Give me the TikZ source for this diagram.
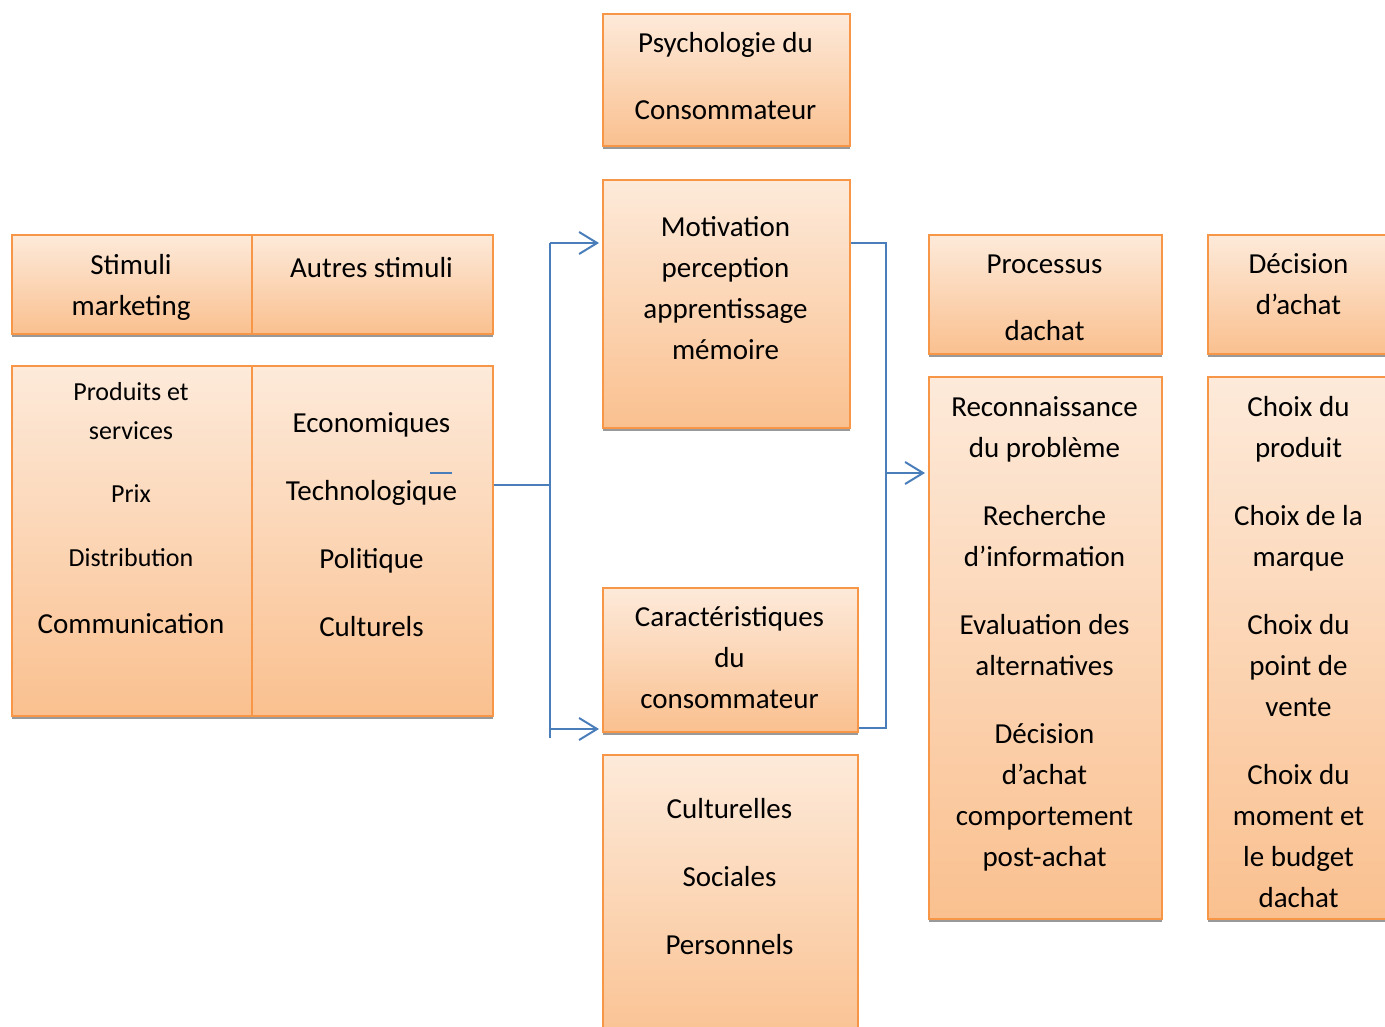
\documentclass[tikz,border=0pt]{standalone}
\usepackage{fontspec}
\setmainfont{Carlito}
\usepackage{tikz}
\usetikzlibrary{arrows.meta,shadows}
\definecolor{orangeLine}{HTML}{F79646}
\definecolor{orangeTop}{HTML}{FDEADA}
\definecolor{orangeBot}{HTML}{FAC08F}
\definecolor{bleuLien}{HTML}{4A7EBB}
\tikzset{
  boite/.style={draw=orangeLine, line width=2pt, inner sep=0pt, anchor=north west,
    top color=orangeTop, bottom color=orangeBot,
    drop shadow={shadow xshift=0pt, shadow yshift=-3pt, fill=black!40, opacity=1}},
  txt/.style={align=center, inner sep=0pt, font=\fontsize{29}{41}\selectfont},
  petit/.style={align=center, inner sep=0pt, font=\fontsize{26}{39}\selectfont},
  fil/.style={draw=bleuLien, line width=2pt},
  fleche/.style={fil, -{Straight Barb[length=18pt,width=22pt,line width=2pt]}, shorten >=3pt}
}

\begin{document}
\begin{tikzpicture}[x=1pt, y=-1pt]
  \useasboundingbox (0,0) rectangle (1385,1027);
  \clip (0,0) rectangle (1385,1027);
  \node [boite, minimum width=247, minimum height=132] (PS) at (602, 13) {};
  \node [boite, minimum width=240, minimum height=99] (SM) at (11, 234) {};
  \node [boite, minimum width=241, minimum height=99] (AS) at (251, 234) {};
  \node [boite, minimum width=240, minimum height=350] (PR) at (11, 365) {};
  \node [boite, minimum width=241, minimum height=350] (EC) at (251, 365) {};
  \node [boite, minimum width=247, minimum height=248] (MO) at (602, 179) {};
  \node [boite, minimum width=255, minimum height=144] (CA) at (602, 587) {};
  \node [boite, minimum width=255, minimum height=300] (CU) at (602, 754) {};
  \node [boite, minimum width=233, minimum height=119] (PC) at (928, 234) {};
  \node [boite, minimum width=233, minimum height=542] (RE) at (928, 376) {};
  \node [boite, minimum width=183, minimum height=119] (DA) at (1207, 234) {};
  \node [boite, minimum width=183, minimum height=542] (CH) at (1207, 376) {};

  \node [txt] (PSt) at (725.5, 76.5) {Psychologie du\\[26pt]Consommateur};
  \node [txt] (SMt) at (131, 287) {Stimuli\\marketing};
  \node [txt] (ASt) at (371.5, 268) {Autres stimuli};
  \node [petit] (PRt) at (131, 475) {Produits et\\services\\[24pt]Prix\\[25pt]Distribution};
  \node [txt] (COt) at (131, 624) {Communication};
  \node [txt] (ECt) at (371.5, 525) {Economiques\\[27pt]Technologique\\[27pt]Politique\\[27pt]Culturels};
  \node [txt] (MOt) at (725.5, 288) {Motivation\\perception\\apprentissage\\mémoire};
  \node [txt] (CAt) at (729.5, 658) {Caractéristiques\\du\\consommateur};
  \node [txt] (CUt) at (729.5, 877) {Culturelles\\[27pt]Sociales\\[27pt]Personnels};
  \node [txt] (PCt) at (1044.5, 297.5) {Processus\\[26pt]dachat};
  \node [txt] (REt) at (1044.5, 633.5) {Reconnaissance\\du problème\\[27pt]Recherche\\d’information\\[27pt]Evaluation des\\alternatives\\[27pt]Décision\\d’achat\\comportement\\post-achat};
  \node [txt] (DAt) at (1298.5, 284.5) {Décision\\d’achat};
  \node [txt] (CHt) at (1298.5, 652) {Choix du\\produit\\[27pt]Choix de la\\marque\\[27pt]Choix du\\point de\\vente\\[27pt]Choix du\\moment et\\le budget\\dachat};

  \coordinate (JA) at (550, 485);
  \coordinate (JT) at (550, 243);
  \coordinate (JC) at (550, 729);
  \coordinate (JB) at (550, 738);
  \coordinate (KT) at (886, 243);
  \coordinate (KC) at (886, 473);
  \coordinate (KB) at (886, 728);
  \coordinate (TA) at (430, 473);
  \coordinate (TB) at (452, 473);
  \draw [fil] (EC.east |- JA) -- (JA);
  \draw [fil] (JT) -- (JB);
  \draw [fleche] (JT) -- (MO.west |- JT);
  \draw [fleche] (JC) -- (CA.west |- JC);
  \draw [fil] (MO.east |- KT) -- (KT) -- (KB) -- (CA.east |- KB);
  \draw [fleche] (KC) -- (RE.west |- KC);
  \draw [fil, line width=1.5pt] (TA) -- (TB);
\end{tikzpicture}
\end{document}
